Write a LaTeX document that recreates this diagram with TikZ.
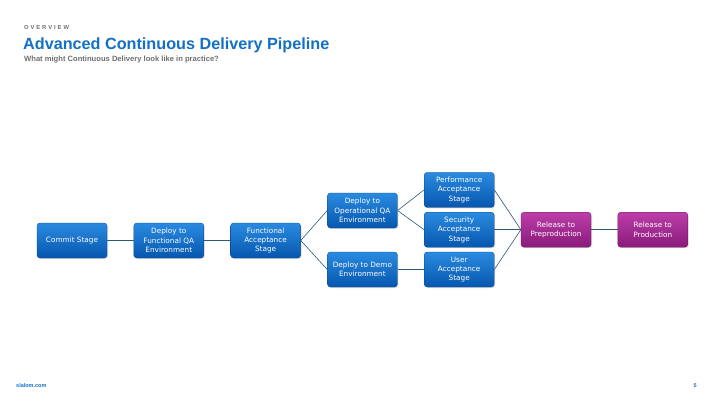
\documentclass[tikz,border=0pt]{standalone}
\usepackage{fontspec}
\setmainfont{Liberation Sans}
\newfontfamily\boxfont{DejaVu Sans}
\usetikzlibrary{positioning,shadows}
\definecolor{stageBlueTop}{HTML}{2A8BE0}
\definecolor{stageBlueBottom}{HTML}{0656AE}
\definecolor{releasePinkTop}{HTML}{BC3EAA}
\definecolor{releasePinkBottom}{HTML}{8A1A7A}
\definecolor{linkDark}{HTML}{2E5A78}
\definecolor{titleBlue}{HTML}{1470C4}
\definecolor{labelGray}{HTML}{707070}

\begin{document}
\begin{tikzpicture}[
            x=1pt, y=1pt,
            node distance=4.5pt and 26.5pt,
            stage/.style={
                    rectangle,
                    rounded corners=3pt,
                    top color=stageBlueTop,
                    bottom color=stageBlueBottom,
                    draw=stageBlueBottom!80!black,
                    line width=0.3pt,
                    minimum width=70pt,
                    minimum height=35pt,
                    inner sep=1pt,
                    align=center,
                    text=white,
                    font=\boxfont\fontsize{7.3}{9.3}\selectfont,
                    drop shadow={shadow xshift=1pt, shadow yshift=-1pt, opacity=0.25}
                },
            release/.style={
                    stage,
                    top color=releasePinkTop,
                    bottom color=releasePinkBottom,
                    draw=releasePinkBottom!80!black
                },
            link/.style={
                    draw=linkDark,
                    line width=0.6pt
                }
        ]
        \useasboundingbox (0,0) rectangle (720,-405);
        \fill[white] (0,0) rectangle (720,-405);

        % Header
        \node[anchor=west, inner sep=0pt, text=labelGray, font=\bfseries\fontsize{5.8}{6}\selectfont] (overview) at (24,-27) {O\,\,V\,\,E\,\,R\,\,V\,\,I\,\,E\,\,W};
        \node[anchor=west, inner sep=0pt, text=titleBlue, font=\bfseries\fontsize{16.2}{18}\selectfont] (title) at (23,-45) {Advanced Continuous Delivery Pipeline};
        \node[anchor=west, inner sep=0pt, text=labelGray, font=\bfseries\fontsize{7.6}{8}\selectfont] (subtitle) at (24,-60) {What might Continuous Delivery look like in practice?};

        % Stages
        \node[stage] (commit) at (72,-240.5) {Commit Stage};
        \node[stage, right=of commit] (funcQA) {Deploy to\\Functional QA\\Environment};
        \node[stage, right=of funcQA] (funcAcc) {Functional\\Acceptance\\Stage};

        \node[stage, right=of funcAcc, yshift=30pt] (opQA) {Deploy to\\Operational QA\\Environment};
        \node[stage, right=of funcAcc, yshift=-29pt] (demo) {Deploy to Demo\\Environment};

        \node[stage, right=of demo] (userAcc) {User\\Acceptance\\Stage};
        \node[stage, above=of userAcc] (secAcc) {Security\\Acceptance\\Stage};
        \node[stage, above=of secAcc] (perfAcc) {Performance\\Acceptance\\Stage};

        % Releases
        \node[release, right=of secAcc] (preprod) {Release to\\Preproduction};
        \node[release, right=of preprod] (prod) {Release to\\Production};

        % Links
        \draw[link] (commit) -- (funcQA);
        \draw[link] (funcQA) -- (funcAcc);

        \draw[link] (funcAcc.east) -- (opQA.west);
        \draw[link] (funcAcc.east) -- (demo.west);

        \draw[link] (opQA.east) -- (perfAcc.west);
        \draw[link] (opQA.east) -- (secAcc.west);
        \draw[link] (demo) -- (userAcc);

        \draw[link] (perfAcc.east) -- (preprod.west);
        \draw[link] (secAcc.east) -- (preprod.west);
        \draw[link] (userAcc.east) -- (preprod.west);
        \draw[link] (preprod) -- (prod);

        % Footer
        \node[anchor=west, inner sep=0pt, text=titleBlue, font=\bfseries\fontsize{5.5}{6}\selectfont] (site) at (16,-386) {slalom.com};
        \node[anchor=east, inner sep=0pt, text=titleBlue, font=\bfseries\fontsize{5.5}{6}\selectfont] (page) at (697,-386) {5};

    \end{tikzpicture}
\end{document}
